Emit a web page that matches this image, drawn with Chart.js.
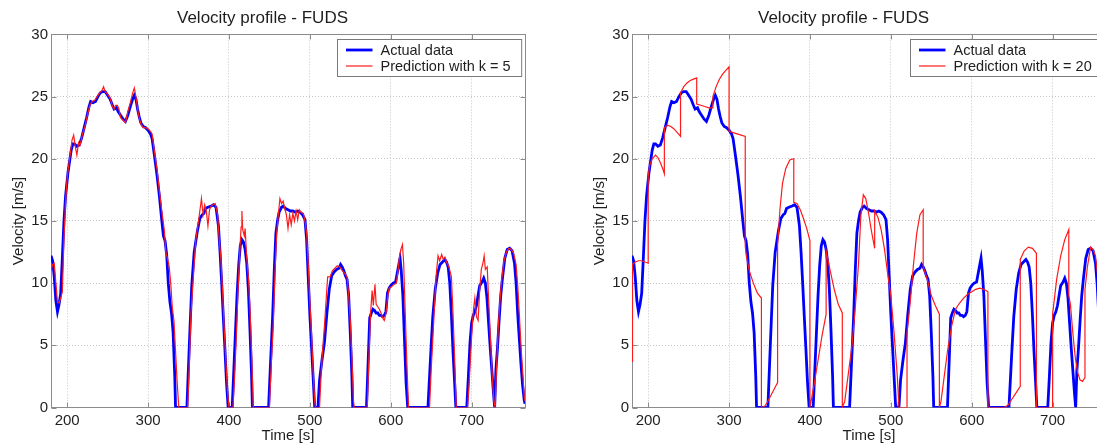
<!DOCTYPE html>
<html>
<head>
<meta charset="utf-8">
<script src="https://cdn.jsdelivr.net/npm/chart.js@4.4.1/dist/chart.umd.min.js"></script>
<style>
html, body { margin: 0; padding: 0; background: #fff; overflow: hidden; width: 1097px; height: 445px; }
#wrap { position: relative; width: 1097px; height: 445px; overflow: hidden; }
canvas { position: absolute; top: 0; }
#c1 { left: 0; }
#c2 { left: 581px; }
</style>
</head>
<body>
<div id="wrap">
  <canvas id="c1" width="548" height="445"></canvas>
  <canvas id="c2" width="548" height="445"></canvas>
</div>
<script>
// axis ticks
const xTicks = [200, 300, 400, 500, 600, 700];
const yTicks = [0, 5, 10, 15, 20, 25, 30];

// measured velocity (blue, same in both plots)
const timeActual = [180,182,184,186,188,190,192,194,196,198,201,203,205,207,209,212,215,218,221,224,227,229,232,235,238,241,244,247,250,253,256,258,261,263,266,269,272,275,278,281,283,285,287,289,291,294,297,300,303,305,308,311,314,317,319,321,323,325,327,329,331,333,334,
  348,351,354,357,361,364,367,369,371,374,378,381,384,387,389,391,393,395,397,399,
  404,406,408,410,412,414,416,418,420,422,424,426,428,429,
  449,451,454,456,458,460,462,465,467,470,473,476,479,482,485,488,491,494,496,498,500,502,504,506,
  510,512,515,518,521,524,527,530,533,536,538,540,542,544,546,548,550,552,553,
  570,572,574,576,578,580,582,584,586,588,590,592,594,596,598,600,603,606,608,610,611.5,613,615,617,619,621,
  646,648,650,652,655,658,661,664,667,669,671,673,675,677,679,680.5,
  694,696,698,700,702,704,706,708,710,713,715,717,719,721,723,725,727,728.5,
  730,732,734,736,738,741,744,747,750,753,755,757,759,761,763,765,766];
const speedActual = [12.2,11.8,10.5,8.6,7.7,8.3,9.2,12.0,15.0,17.0,18.9,19.8,20.7,21.2,21.2,21.0,21.1,21.7,22.5,23.3,24.2,24.6,24.5,24.6,25.0,25.3,25.4,25.4,25.1,24.8,24.3,24.0,24.1,23.8,23.5,23.2,23.0,23.5,24.2,24.8,25.1,24.8,24.0,23.4,22.9,22.6,22.5,22.3,22.0,21.6,20.2,18.7,17.0,15.0,13.8,13.4,12.3,10.0,8.5,7.6,6.0,2.5,0,
  0,5.0,9.8,12.5,14.2,15.2,15.5,15.6,16.0,16.1,16.2,16.3,16.1,14.6,12.5,10.0,7.3,4.7,2.0,0,
  0,3.0,6.0,9.0,11.4,13.0,13.5,13.3,12.7,11.6,9.5,6.2,2.5,0,
  0,3.0,7.3,11.0,14.0,15.0,15.7,16.1,16.2,16.0,15.9,15.8,15.8,15.7,15.8,15.7,15.5,15.1,13.5,10.5,7.5,5.0,2.5,0,
  0,2.2,3.8,5.2,7.5,9.5,10.6,10.9,11.1,11.2,11.5,11.3,11.0,10.6,10.3,9.0,6.0,2.5,0,
  0,3.5,7.2,7.6,7.9,7.8,7.6,7.6,7.4,7.4,7.3,7.4,7.7,9.2,9.6,9.8,10.0,10.1,10.8,11.5,12.0,11.0,9.0,5.5,2.0,0,
  0,2.5,5.0,7.3,9.5,10.8,11.5,11.7,11.9,11.7,11.3,10.0,7.5,4.5,2.0,0,
  0,2.5,5.2,6.8,7.4,7.7,8.2,9.0,9.8,10.1,10.4,10.0,8.8,6.8,4.8,3.0,1.2,0,
  3.0,4.8,7.0,9.0,10.3,12.0,12.7,12.8,12.6,11.6,10.0,7.5,5.5,3.5,1.8,0.6,0.3];

// prediction with k = 5 (red, left plot)
const timePred5 = [180,182,184,186,188,190,192,194,196,198,200,202,204,206,208,210,212,214,216,219,222,225,228,231,234,237,240,243,245,247,250,253,256,258,260,262,264,266,269,272,275,278,281,283,285,287,289,291,294,297,300,303,305,308,311,314,317,320,322,324,326,328,330,332,334,336,338,
  349,351,353,356,359,362,364,366,368,370,372,374,376,378,380,383,386,388,390,392,394,396,398,400,
  405,407,409,411,413,415,416,417,419,420,422,424,426,428,430,
  450,452,455,457,459,461,463,465,467,469,471,473,475,477,479,481,483,485,487,489,492,494,496,498,500,502,504,506,507,
  512,514,516,518,520,522,525,528,531,534,537,540,543,546,548,550,552,554,555,
  571,573,575,577,578.5,580.5,582,584,586,588,590,592,594,596,598,601,604,607,609,611,613,614.5,616,618,620,622,
  648,650,652,654,656,658.5,660.5,663,665,667,669,672,675,677,679,681,
  695,697,699,701,702.5,704,706,708,710,712,714,715.5,717,719.3,721,723,725.5,727.5,729,
  731,733,735,737,740,743,746,749,752,755,757,759,761,763,765,766];
const speedPred5 = [11.0,11.5,11.6,10.0,8.5,8.4,8.8,9.3,13.5,16.5,18.5,19.5,20.5,21.5,21.9,21.0,20.3,21.3,21.1,22.0,22.6,23.5,24.3,24.6,24.7,25.0,25.3,25.5,25.8,25.4,25.2,24.9,24.2,24.0,24.3,24.3,24.0,23.3,23.1,22.9,23.8,24.5,25.3,25.7,25.0,24.0,23.3,22.8,22.5,22.5,22.4,22.2,22.0,20.5,19.2,17.4,15.8,14.3,12.5,12.0,11.4,10.0,8.0,7.0,4.5,2.0,0,
  0,3.5,7.5,10.5,13.5,14.8,15.8,16.8,15.5,16.3,15.8,14.6,15.9,16.2,16.3,16.4,15.5,13.5,12.0,9.5,6.5,4.0,1.5,0,
  0,2.5,5.5,9.0,12.0,14.5,15.8,14.3,13.8,14.4,12.0,10.5,8.0,4.5,0,
  0,3.0,7.0,11.0,14.0,15.5,16.8,16.4,16.6,16.0,15.5,14.4,15.5,14.7,15.6,15.0,15.8,15.1,15.9,15.7,15.6,15.0,14.0,11.5,8.5,6.0,3.0,0.5,0,
  0,2.8,4.8,6.5,8.5,10.5,10.5,11.0,11.2,11.4,11.3,11.0,10.8,10.5,9.0,7.0,4.0,0.5,0,
  0,4.0,7.5,9.4,8.2,9.9,8.3,8.1,7.9,7.6,7.2,7.0,7.5,8.8,9.6,9.7,9.9,10.0,11.0,12.2,12.8,13.1,11.6,7.5,3.5,0,
  0,3.0,5.5,8.0,10.5,12.2,11.8,12.3,11.9,12.1,11.7,11.3,10.5,7.6,4.0,0,
  0,2.0,4.5,6.8,8.0,8.8,7.3,7.0,9.5,11.1,11.6,12.2,11.1,11.3,8.7,6.0,2.5,0.5,0,
  3.5,6.5,8.5,10.2,11.8,12.5,12.8,12.7,12.4,11.5,9.8,7.5,5.0,3.0,1.0,0.5];

// prediction with k = 20 (red, right plot)
const timePred20 = [180,180.6,184,188,192,196,200,200,202,205,209,212,215,218,220,220,224,228,232,236,240,240,244,248,252,256,260,260,265,270,275,280,280,284,288,292,296,300,300,305,310,315,320,
  320,321,325,330,335,340,340,344,348,352,356,360,360,363,366,370,375,380,380,384,388,392,396,400,400,405,410,415,420,420,425,430,435,440,
  440,443,447,452,456,460,463,466,469,472,476,480,480,484,488,492,496,500,504,508,510,520,520,524,528,532,536,540,540,545,550,555,560,
  560,562,566,570,575,580,585,590,595,600,605,610,615,620,620,640,645,650,655,660,660,665,670,675,680,680,700,700,705,710,715,720,
  720,722,725,728,731,734,737,740,740,743,747,750,753,755,758,762,766];
const speedPred20 = [3.7,11.5,11.7,11.8,11.8,11.7,11.6,18.6,19.5,20.0,20.3,20.1,19.7,19.2,18.8,22.5,22.7,22.6,22.4,22.1,21.8,25.3,25.8,26.1,26.3,26.4,26.5,24.4,24.3,24.2,24.1,24.1,25.0,25.8,26.4,26.8,27.1,27.4,22.2,22.1,22.0,21.9,21.8,
  13.0,12.3,11.0,10.0,9.2,8.8,0,0.1,0.5,1.0,1.5,2.0,13.0,16.0,18.0,19.2,19.9,20.0,16.5,16.4,15.9,15.2,14.4,13.4,0,1.8,3.8,5.8,7.5,12.6,11.0,9.5,8.3,7.6,
  0,0.5,2.5,5.0,8.0,11.5,15.5,17.1,16.8,15.8,14.2,12.8,15.8,15.3,14.3,12.8,10.8,9.0,6.0,2.5,0,0,6.0,8.5,11.5,14.0,15.5,15.9,11.3,10.3,9.0,8.2,7.5,
  0,0.5,2.5,4.5,6.5,7.9,8.4,8.8,9.1,9.3,9.5,9.6,9.5,9.3,0,0,0.2,0.7,1.2,1.7,11.9,12.6,12.9,12.8,12.4,0,0,7.5,10.3,12.2,13.5,14.3,
  9.0,8.3,6.0,4.0,2.8,2.2,2.1,2.4,9.5,11.3,12.9,12.7,12.2,11.0,9.5,6.5,4.0];

const FONT = "'Liberation Sans', Arial, Helvetica, sans-serif";
const TEXT = '#1e1e1e';

function toXY(xs, ys) {
  return xs.map((x, i) => ({ x: x, y: ys[i] }));
}

// box, inner tick marks and the legend drawn like a matlab axes
const frameBox = {
  id: 'frameBox',
  beforeDatasetsDraw(chart) {
    const { ctx, chartArea: a } = chart;
    const xs = chart.scales.x, ys = chart.scales.y;
    const l = Math.round(a.left) + 0.5, r = Math.round(a.right) + 0.5;
    const t = Math.round(a.top) + 0.5, b = Math.round(a.bottom) - 0.5;
    ctx.save();
    ctx.strokeStyle = '#8c8c8c';
    ctx.lineWidth = 1;
    ctx.beginPath();
    xTicks.forEach(v => {
      const px = Math.round(xs.getPixelForValue(v)) + 0.5;
      ctx.moveTo(px, b); ctx.lineTo(px, b - 5);
      ctx.moveTo(px, t); ctx.lineTo(px, t + 5);
    });
    yTicks.forEach(v => {
      const py = Math.round(ys.getPixelForValue(v)) + 0.5;
      ctx.moveTo(l, py); ctx.lineTo(l + 5, py);
      ctx.moveTo(r, py); ctx.lineTo(r - 5, py);
    });
    ctx.stroke();
    ctx.strokeRect(l, t, r - l, b - t);
    ctx.restore();
  },
  afterDatasetsDraw(chart) {
    const { ctx, chartArea: a } = chart;
    const sets = chart.data.datasets;
    ctx.save();
    ctx.font = '14.5px ' + FONT;
    const tw = Math.max(...sets.map(d => ctx.measureText(d.label).width));
    const w = 43 + tw + 11, h = 37;
    const x0 = Math.round(a.right - 4 - w) + 0.5, y0 = Math.round(a.top + 5) + 0.5;
    ctx.fillStyle = '#fff';
    ctx.fillRect(x0, y0, w, h);
    ctx.strokeStyle = '#7a7a7a';
    ctx.lineWidth = 1;
    ctx.strokeRect(x0, y0, w, h);
    sets.forEach((d, i) => {
      const yy = y0 + 10.5 + i * 16;
      ctx.strokeStyle = d.borderColor;
      ctx.lineWidth = d.borderWidth;
      ctx.beginPath();
      ctx.moveTo(x0 + 8.5, yy); ctx.lineTo(x0 + 35, yy);
      ctx.stroke();
      ctx.fillStyle = TEXT;
      ctx.textBaseline = 'middle';
      ctx.fillText(d.label, x0 + 43, yy + 0.5);
    });
    ctx.restore();
  }
};

function makeChart(id, predLabel, predTime, predSpeed) {
  return new Chart(document.getElementById(id), {
    type: 'line',
    data: {
      datasets: [
        {
          label: 'Actual data',
          data: toXY(timeActual, speedActual),
          borderColor: '#0000ff',
          borderWidth: 2.8,
          pointRadius: 0,
          tension: 0,
          order: 2
        },
        {
          label: predLabel,
          data: toXY(predTime, predSpeed),
          borderColor: '#ff1a1a',
          borderWidth: 1.2,
          pointRadius: 0,
          tension: 0,
          order: 1
        }
      ]
    },
    options: {
      responsive: false,
      animation: false,
      events: [],
      layout: { padding: { left: 0, right: 23, top: 0, bottom: 0 } },
      plugins: {
        legend: { display: false },
        tooltip: { enabled: false },
        title: {
          display: true,
          text: 'Velocity profile - FUDS',
          color: TEXT,
          font: { family: FONT, size: 17, weight: 'normal' },
          padding: { top: 8, bottom: 6 }
        }
      },
      scales: {
        x: {
          type: 'linear',
          min: 180,
          max: 766,
          afterBuildTicks: s => { s.ticks = xTicks.map(v => ({ value: v })); },
          afterFit: s => { s.height = 37.5; },
          ticks: { color: TEXT, font: { family: FONT, size: 15 }, padding: 4, maxRotation: 0, autoSkip: false },
          grid: { color: '#c4c4c4', lineWidth: 1, drawTicks: false },
          border: { display: false, dash: [1, 2] },
          title: { display: true, text: 'Time [s]', color: TEXT, font: { family: FONT, size: 15 }, padding: { top: 0, bottom: 0 } }
        },
        y: {
          type: 'linear',
          min: 0,
          max: 30,
          afterBuildTicks: s => { s.ticks = yTicks.map(v => ({ value: v })); },
          afterFit: s => { s.width = 51; },
          ticks: { color: TEXT, font: { family: FONT, size: 15 }, padding: 3 },
          grid: { color: '#c4c4c4', lineWidth: 1, drawTicks: false },
          border: { display: false, dash: [1, 2] },
          title: { display: true, text: 'Velocity [m/s]', color: TEXT, font: { family: FONT, size: 15 }, padding: { top: 10, bottom: 0 } }
        }
      }
    },
    plugins: [frameBox]
  });
}

makeChart('c1', 'Prediction with k = 5', timePred5, speedPred5);
makeChart('c2', 'Prediction with k = 20', timePred20, speedPred20);
</script>
</body>
</html>
